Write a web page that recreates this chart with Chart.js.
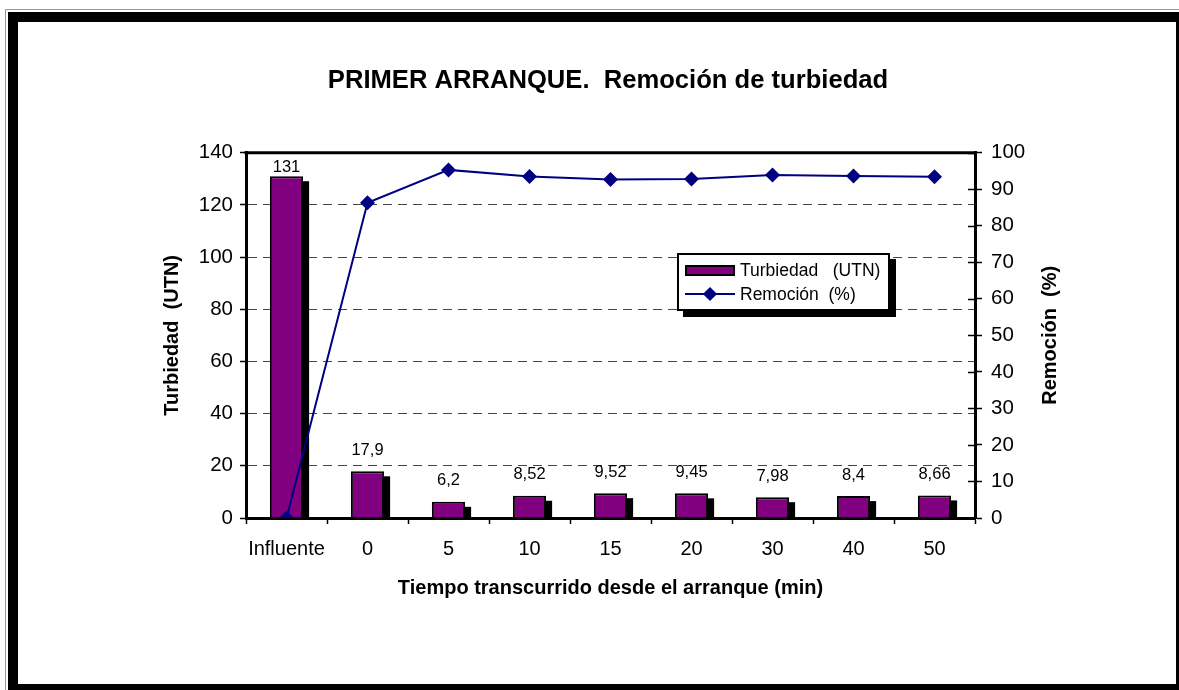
<!DOCTYPE html>
<html>
<head>
<meta charset="utf-8">
<script src="https://cdn.jsdelivr.net/npm/chart.js@4"></script>
<style>
  html, body { margin:0; padding:0; background:#fff; }
  body { width:1179px; height:690px; position:relative; overflow:hidden; font-family:'Liberation Sans', Arial, sans-serif; }
  #gray { position:absolute; left:5px; top:9px; width:1200px; height:700px; border-left:1px solid #9a9a9a; border-top:1px solid #9a9a9a; }
  #frame { position:absolute; left:8px; top:12px; width:1171px; height:678px; box-sizing:border-box;
           border-left:10px solid #000; border-top:10px solid #000; border-right:3px solid #000; border-bottom:6px solid #000; }
  #c { position:absolute; left:0; top:0; }
  #legend { position:absolute; left:677px; top:253px; width:213px; height:58px; box-sizing:border-box;
            border:2px solid #000; background:#fff; box-shadow:6px 6px 0 #000; }
  .row { position:absolute; left:6px; height:20px; display:flex; align-items:center; font-size:17.5px; color:#000; white-space:pre; }
  .sw { width:50px; height:11px; box-sizing:border-box; border:2px solid #000; background:#800080; margin-right:5px; }
  .ln { width:50px; height:14px; position:relative; margin-right:5px; }
  .ln:before { content:''; position:absolute; left:0; right:0; top:6px; height:2px; background:#000080; }
  .ln:after { content:''; position:absolute; left:20px; top:2px; width:10px; height:10px; background:#000080; transform:rotate(45deg); }
</style>
</head>
<body>
<div id="gray"></div>
<div id="frame"></div>
<canvas id="c" width="1179" height="690"></canvas>
<div id="legend"></div>
<script>
const categories = ['Influente', '0', '5', '10', '15', '20', '30', '40', '50'];
const turbidity = [131, 17.9, 6.2, 8.52, 9.52, 9.45, 7.98, 8.4, 8.66];
const removal = [0, 86.3, 95.3, 93.5, 92.7, 92.8, 93.9, 93.6, 93.4];
const turbidityLabel = 'Turbiedad   (UTN)';
const removalLabel = 'Remoción  (%)';
const chartTitle = 'PRIMER ARRANQUE.  Remoción de turbiedad';
const xTitle = 'Tiempo transcurrido desde el arranque (min)';
const yLeftTitle = 'Turbiedad  (UTN)';
const yRightTitle = 'Remoción  (%)';

Chart.defaults.font.family = "'Liberation Sans', Arial, sans-serif";
Chart.defaults.color = '#000';

const decorPlugin = {
  id: 'decor',
  beforeDatasetDraw(chart, args) {
    const ds = chart.data.datasets[args.index];
    if (ds.type !== 'bar') return;
    const ctx = chart.ctx;
    const a = chart.chartArea;
    const meta = chart.getDatasetMeta(args.index);
    ctx.save();
    ctx.beginPath();
    ctx.rect(a.left, a.top, a.right - a.left, a.bottom - a.top);
    ctx.clip();
    ctx.fillStyle = '#000';
    meta.data.forEach(bar => {
      const p = bar.getProps(['x', 'y', 'base', 'width'], true);
      const left = p.x - p.width / 2 + 6;
      const top = p.y + 5;
      ctx.fillRect(left, top, p.width, p.base - top);
    });
    ctx.restore();
  },
  afterDatasetsDraw(chart) {
    const ctx = chart.ctx;
    const a = chart.chartArea;
    ctx.save();
    ctx.strokeStyle = '#000';
    ctx.lineWidth = 3;
    ctx.beginPath();
    ctx.moveTo(a.left - 1.5, a.top);
    ctx.lineTo(a.right + 1.5, a.top);
    ctx.stroke();
    // inward ticks on right axis
    const y1 = chart.scales.y1;
    ctx.lineWidth = 1.5;
    y1.ticks.forEach(t => {
      const py = Math.round(y1.getPixelForValue(t.value)) + 0.5;
      ctx.beginPath();
      ctx.moveTo(a.right - 7, py);
      ctx.lineTo(a.right, py);
      ctx.stroke();
    });
    // bar value labels
    const barIndex = chart.data.datasets.findIndex(d => d.type === 'bar');
    const meta = chart.getDatasetMeta(barIndex);
    ctx.fillStyle = '#000';
    ctx.font = "16.5px 'Liberation Sans', Arial, sans-serif";
    ctx.textAlign = 'center';
    ctx.textBaseline = 'middle';
    meta.data.forEach((bar, i) => {
      const txt = String(chart.data.datasets[barIndex].data[i]).replace('.', ',');
      let ty = bar.y - 21;
      if (ty < a.top + 15) ty = a.top + 15;
      ctx.fillText(txt, bar.x, ty);
    });
    // right axis title
    ctx.font = "bold 20px 'Liberation Sans', Arial, sans-serif";
    ctx.translate(1050, (a.top + a.bottom) / 2);
    ctx.rotate(-Math.PI / 2);
    ctx.fillText(yRightTitle, 0, 0);
    ctx.restore();
  }
};

const chart = new Chart(document.getElementById('c'), {
  type: 'bar',
  data: {
    labels: categories,
    datasets: [
      {
        type: 'bar',
        label: turbidityLabel,
        data: turbidity,
        yAxisID: 'y',
        backgroundColor: '#800080',
        borderColor: '#000',
        borderWidth: 2,
        borderSkipped: 'bottom',
        barPercentage: 0.41,
        categoryPercentage: 1,
        clip: 0,
        order: 1
      },
      {
        type: 'line',
        label: removalLabel,
        data: removal,
        yAxisID: 'y1',
        borderColor: '#000080',
        backgroundColor: '#000080',
        borderWidth: 2,
        tension: 0,
        pointStyle: 'rectRot',
        pointRadius: 7.5,
        pointBorderWidth: 0,
        pointBackgroundColor: '#000080',
        order: 0
      }
    ]
  },
  options: {
    responsive: false,
    animation: false,
    events: [],
    layout: { padding: { left: 141, right: 104, top: 20, bottom: 80 } },
    plugins: {
      legend: { display: false },
      tooltip: { enabled: false },
      title: {
        display: true,
        text: chartTitle,
        color: '#000',
        font: { size: 25.6, weight: 'bold' },
        padding: { top: 46, bottom: 56 }
      }
    },
    scales: {
      x: {
        offset: true,
        grid: { offset: true, drawOnChartArea: false, drawTicks: true, tickLength: 6, tickColor: '#000', tickWidth: 1.5 },
        border: { color: '#000', width: 3 },
        ticks: { color: '#000', font: { size: 20 }, padding: 13, maxRotation: 0, autoSkip: false },
        title: { display: true, text: xTitle, color: '#000', font: { size: 20, weight: 'bold' }, padding: { top: 0, bottom: 10 } },
        afterFit: s => { s.height = 92; }
      },
      y: {
        position: 'left',
        min: 0, max: 140,
        ticks: { stepSize: 20, color: '#000', font: { size: 20.5 }, padding: 7 },
        grid: {
          color: c => (c.tick && (c.tick.value === 0 || c.tick.value === 140)) ? 'rgba(0,0,0,0)' : '#444',
          lineWidth: 1, tickColor: '#000', tickLength: 6, tickWidth: 1.5, drawOnChartArea: true
        },
        border: { color: '#000', width: 3, dash: [9, 6] },
        title: { display: true, text: yLeftTitle, color: '#000', font: { size: 20, weight: 'bold' }, padding: { top: 19, bottom: 0 } },
        afterFit: s => { s.width = 105; }
      },
      y1: {
        position: 'right',
        min: 0, max: 100,
        ticks: { stepSize: 10, color: '#000', font: { size: 20.5 }, padding: 9 },
        grid: { drawOnChartArea: false, tickLength: 7, tickColor: '#000', tickWidth: 1.5 },
        border: { color: '#000', width: 3 },
        afterFit: s => { s.width = 100; }
      }
    }
  },
  plugins: [decorPlugin]
});

// HTML legend built from the datasets
const legend = document.getElementById('legend');
chart.data.datasets.forEach((ds, i) => {
  const row = document.createElement('div');
  row.className = 'row';
  row.style.top = (i === 0 ? 5 : 29) + 'px';
  const sym = document.createElement('div');
  sym.className = ds.type === 'bar' ? 'sw' : 'ln';
  row.appendChild(sym);
  const t = document.createElement('span');
  t.textContent = ds.label;
  row.appendChild(t);
  legend.appendChild(row);
});
</script>
</body>
</html>
